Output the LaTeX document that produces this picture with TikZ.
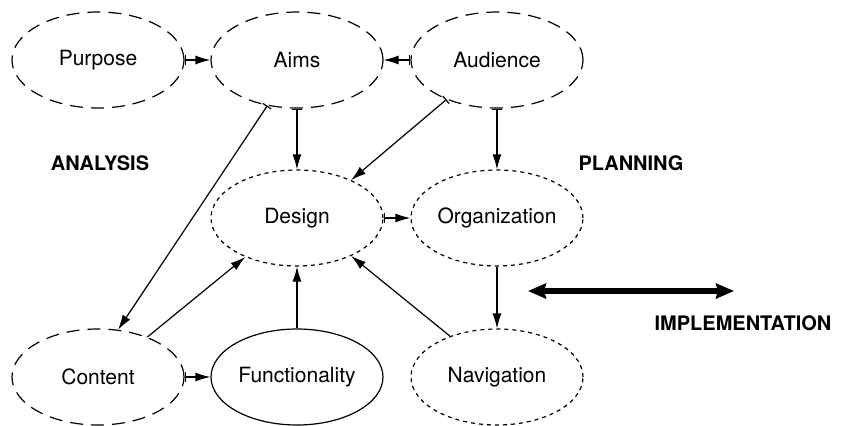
\documentclass[tikz,border=0pt]{standalone}
\usepackage{fontspec}
\setmainfont{TeX Gyre Heros}
\usetikzlibrary{shapes.geometric,arrows.meta}

\begin{document}
\begin{tikzpicture}[x=0.5pt,y=0.5pt,yscale=-1,xscale=1,
    bubble/.style={ellipse,minimum width=86pt,minimum height=48pt,inner sep=0pt,line width=0.6pt,font=\fontsize{10.5}{12}\selectfont},
    longdash/.style={bubble,draw,dash pattern={on 6.5pt off 4pt}},
    shortdash/.style={bubble,draw,dash pattern={on 2pt off 2pt}},
    solidbubble/.style={bubble,draw},
    phase/.style={inner sep=0.75pt,font=\fontsize{10}{12}\selectfont\bfseries},
    link/.style={line width=0.6pt,-{Latex[length=7.5pt,width=4.5pt]}},
    barlink/.style={line width=0.6pt,{Bar[width=5pt]}-{Latex[length=7.5pt,width=4.5pt]}}]
    \useasboundingbox (0,0) rectangle (843,425);

    %Shapes: Ellipse (analysis)
    \node [longdash] (purpose) at (98,60) {Purpose};
    \node [longdash] (aims) at (297,60) {Aims};
    \node [longdash] (audience) at (497,60) {Audience};
    \node [longdash] (content) at (98,377) {Content};
    %Shapes: Ellipse (planning)
    \node [shortdash] (design) at (297,218) {Design};
    \node [shortdash] (organization) at (497,218) {Organization};
    \node [shortdash] (navigation) at (497,377) {Navigation};
    %Shape: Ellipse
    \node [solidbubble] (functionality) at (297,377) {Functionality};

    % Text Node
    \node [phase] (analysis) at (100,163) {ANALYSIS};
    % Text Node
    \node [phase] (planning) at (631,163) {PLANNING};
    % Text Node
    \node [phase] (implementation) at (743,323) {IMPLEMENTATION};

    %Straight Lines
    \draw [barlink] (purpose) -- (aims);
    \draw [barlink] (audience) -- (aims);
    \draw [barlink] (aims.south) -- (design.north);
    \draw [barlink] (aims.237) -- (content.67);
    \draw [barlink] (audience.218) -- (design.35);
    \draw [barlink] (audience.south) -- (organization.north);
    \draw [barlink] (design) -- (organization);
    \draw [barlink] (content) -- (functionality);
    \draw [link] (content.39) -- (design.217);
    \draw [link] (functionality.north) -- (design.south);
    \draw [link] (navigation.139) -- (design.325);
    \draw [link] (organization.south) -- (navigation.north);

    %Double arrow
    \coordinate (left) at (528,291);
    \coordinate (right) at (734,291);
    \draw [line width=3.2pt,{Stealth[length=9pt,width=7.5pt,inset=1pt]}-{Stealth[length=9pt,width=7.5pt,inset=1pt]}] (left) -- (right);
\end{tikzpicture}
\end{document}
